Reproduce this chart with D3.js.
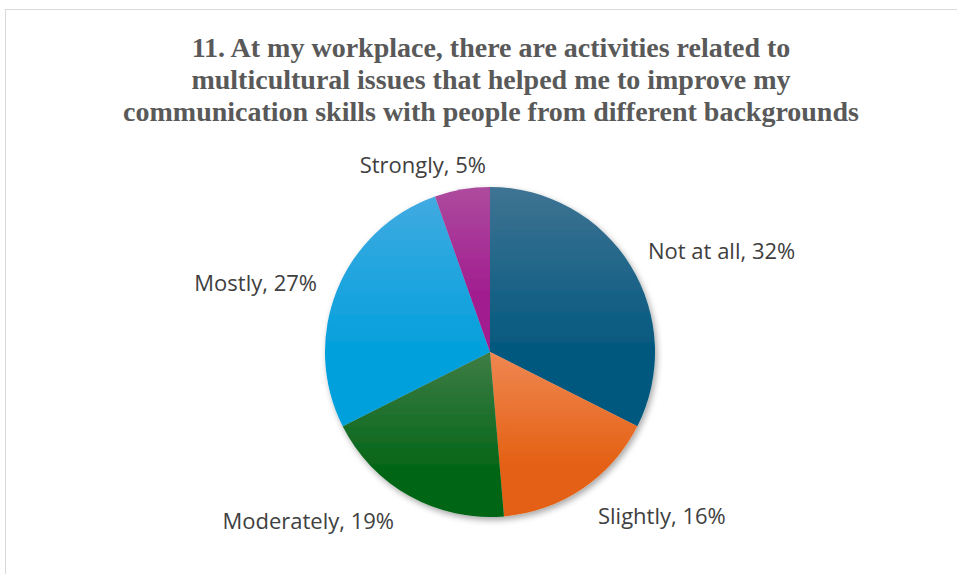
<!DOCTYPE html>
<html>
<head>
<meta charset="utf-8">
<script src="https://cdn.jsdelivr.net/npm/d3@7"></script>
<style>
  html, body { margin: 0; padding: 0; background: #fff; }
  svg { display: block; }
</style>
</head>
<body>
<svg id="chart" width="957" height="574"></svg>
<script>
// Survey answers (response counts) and their labels
const categories = ["Not at all", "Slightly", "Moderately", "Mostly", "Strongly"];
const counts = [12, 6, 7, 10, 2];
const percentLabels = ["32%", "16%", "19%", "27%", "5%"];
const baseColors = ["#02587e", "#e46012", "#056618", "#00a0dc", "#a11a8f"];
const lightColors = ["#3f7393", "#ef8752", "#3f7d46", "#41aae1", "#ad4b9e"];
const titleLines = [
  "11. At my workplace, there are activities related to",
  "multicultural issues that helped me to improve my",
  "communication skills with people from different backgrounds"
];

const svg = d3.select("#chart");
const W = 957, H = 574;
const cx = 490, cy = 352, r = 165;

// chart frame
svg.append("rect")
  .attr("x", 5.5).attr("y", 9.5)
  .attr("width", W + 10).attr("height", H + 10)
  .attr("fill", "#fff").attr("stroke", "#d9d9d9").attr("stroke-width", 1);

const defs = svg.append("defs");
baseColors.forEach((c, i) => {
  const g = defs.append("linearGradient")
    .attr("id", "grad" + i)
    .attr("x1", 0).attr("y1", 0).attr("x2", 0).attr("y2", 1);
  g.append("stop").attr("offset", "0%").attr("stop-color", lightColors[i]);
  g.append("stop").attr("offset", "70%").attr("stop-color", c);
  g.append("stop").attr("offset", "100%").attr("stop-color", c);
});
const shadow = defs.append("filter").attr("id", "shadow")
  .attr("x", "-20%").attr("y", "-20%").attr("width", "140%").attr("height", "140%");
shadow.append("feDropShadow")
  .attr("dx", 2).attr("dy", 3).attr("stdDeviation", 3)
  .attr("flood-color", "#000").attr("flood-opacity", 0.35);

// title
const title = svg.append("text")
  .attr("text-anchor", "middle")
  .attr("font-family", "'Liberation Serif', 'Times New Roman', serif")
  .attr("font-weight", "bold")
  .attr("font-size", 28)
  .attr("fill", "#595959");
titleLines.forEach((t, i) => {
  title.append("tspan").attr("x", 491).attr("y", 57 + i * 32).text(t);
});

// pie
const pie = d3.pie().sort(null).value(d => d)(counts);
const arc = d3.arc().innerRadius(0).outerRadius(r);

const g = svg.append("g").attr("transform", `translate(${cx},${cy})`);
const slices = g.append("g").attr("filter", "url(#shadow)");
slices.selectAll("path")
  .data(pie)
  .join("path")
  .attr("d", arc)
  .attr("fill", (d, i) => `url(#grad${i})`);

// data labels positioned outside the pie
const labelPos = [
  { x: 648, y: 259, anchor: "start" },
  { x: 598, y: 524, anchor: "start" },
  { x: 394, y: 529, anchor: "end" },
  { x: 317, y: 291, anchor: "end" },
  { x: 486, y: 173, anchor: "end" }
];
svg.append("g").selectAll("text")
  .data(pie)
  .join("text")
  .attr("x", (d, i) => labelPos[i].x)
  .attr("y", (d, i) => labelPos[i].y)
  .attr("text-anchor", (d, i) => labelPos[i].anchor)
  .attr("font-family", "'Open Sans', 'Noto Sans', sans-serif")
  .attr("font-size", 22)
  .attr("fill", "#404040")
  .text((d, i) => `${categories[i]}, ${percentLabels[i]}`);
</script>
</body>
</html>
